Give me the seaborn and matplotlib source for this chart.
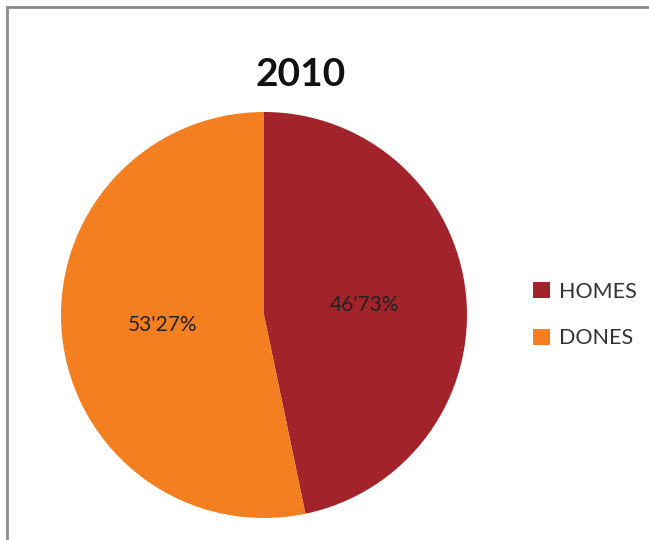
# 2010 pie chart: HOMES vs DONES

import seaborn as sns
import matplotlib.pyplot as plt
from matplotlib.patches import Patch, Rectangle

# data
labels = ['HOMES', 'DONES']
values = [46.73, 53.27]
colors = ['#A2232A', '#F47F20']
title = '2010'

sns.set_theme(style='white')
plt.rcParams['font.family'] = ['Lato', 'DejaVu Sans']

fig = plt.figure(figsize=(6.49, 5.4), dpi=100)

# gray frame around the chart area
fig.patches.append(Rectangle((7 / 649, -0.1), 1.2, 1 - 7 / 540 + 0.1,
                             transform=fig.transFigure, fill=False,
                             edgecolor='#8a8a8a', linewidth=2))

ax = fig.add_axes([61 / 649, 22 / 540, 406 / 649, 406 / 540])
ax.pie(values, colors=colors, startangle=90, counterclock=False,
       autopct=lambda p: f'{p:.2f}%'.replace('.', "'"), pctdistance=0.5,
       textprops={'fontsize': 15, 'color': '#222222'}, radius=1,
       wedgeprops={'linewidth': 0, 'edgecolor': 'none'})
ax.set_xlim(-1, 1)
ax.set_ylim(-1, 1)
ax.set_aspect('equal')

fig.text(301 / 649, 1 - 74 / 540, title, ha='center', va='center',
         fontsize=28, fontweight='bold', color='#111111')

handles = [Patch(facecolor=c, edgecolor='none', label=l)
           for c, l in zip(colors, labels)]
fig.legend(handles=handles, loc='center left',
           bbox_to_anchor=(514 / 649, 1 - 315 / 540), frameon=False,
           fontsize=15.5, handlelength=0.75, handleheight=0.75,
           handletextpad=0.45, labelspacing=1.25, labelcolor='#333333')

fig.savefig('out.png', dpi=100)
